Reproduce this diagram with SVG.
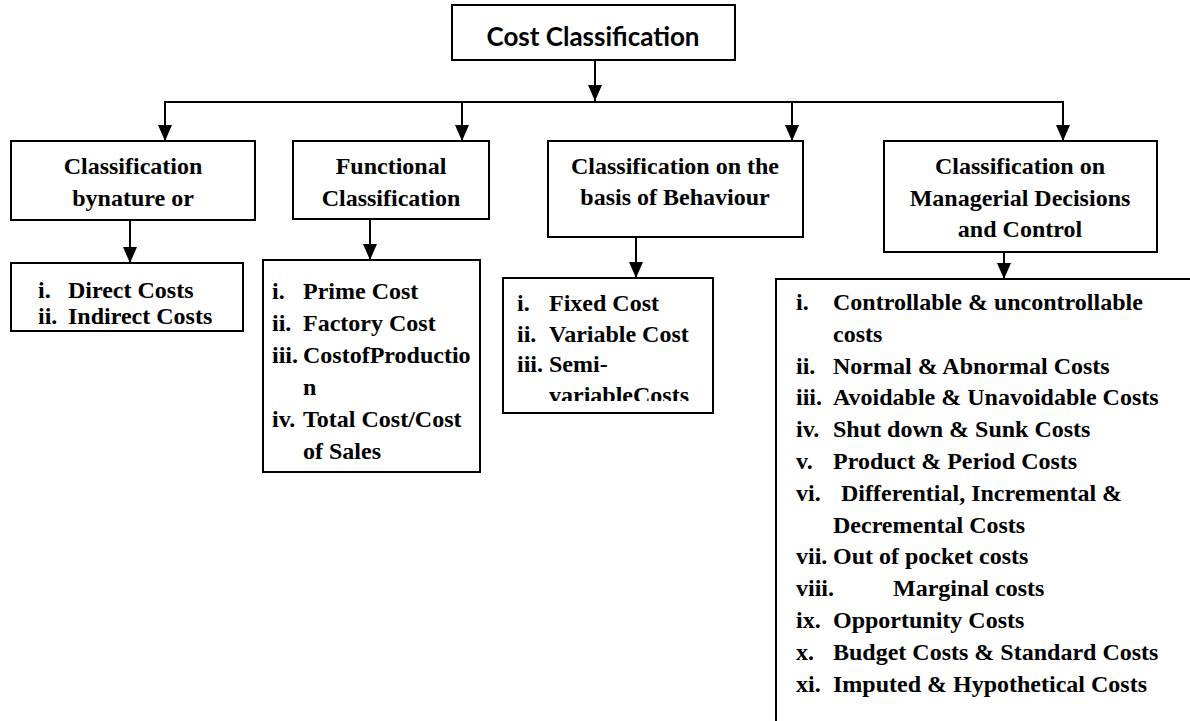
<svg xmlns="http://www.w3.org/2000/svg" width="1190" height="721" viewBox="0 0 1190 721">
<defs>
<style>
.box{fill:#fff;stroke:#000;stroke-width:2}
.ln{fill:none;stroke:#000;stroke-width:2}
.hd{font-family:"Liberation Serif","Times New Roman",serif;font-weight:bold;font-size:24px;text-anchor:middle;fill:#000}
.li{font-family:"Liberation Serif","Times New Roman",serif;font-weight:bold;font-size:24px;fill:#000}
.tt{font-family:Lato,"Liberation Sans",sans-serif;font-weight:bold;font-size:26px;text-anchor:middle;fill:#000}
</style>
<marker id="ah" markerUnits="userSpaceOnUse" markerWidth="16" markerHeight="14" viewBox="0 0 16 14" refX="16" refY="7" orient="auto">
<path d="M0,0 L16,7 L0,14 z" fill="#000"/>
</marker>
<clipPath id="c3"><rect x="503" y="278" width="210" height="123"/></clipPath>
</defs>
<rect width="1190" height="721" fill="#fff"/>

<g id="connectors">
<line class="ln" x1="595" y1="60" x2="595" y2="101" marker-end="url(#ah)"/>
<path class="ln" d="M165,102 L1063,102"/>
<line class="ln" x1="165" y1="101" x2="165" y2="141" marker-end="url(#ah)"/>
<line class="ln" x1="462" y1="102" x2="462" y2="141" marker-end="url(#ah)"/>
<line class="ln" x1="792" y1="102" x2="792" y2="141" marker-end="url(#ah)"/>
<line class="ln" x1="1063" y1="101" x2="1063" y2="141" marker-end="url(#ah)"/>
<line class="ln" x1="130" y1="220" x2="130" y2="263" marker-end="url(#ah)"/>
<line class="ln" x1="370" y1="219" x2="370" y2="260" marker-end="url(#ah)"/>
<line class="ln" x1="636" y1="237" x2="636" y2="278" marker-end="url(#ah)"/>
<line class="ln" x1="1004" y1="252" x2="1004" y2="279" marker-end="url(#ah)"/>
</g>

<g id="root">
<rect class="box" x="452" y="5" width="283" height="55"/>
<text class="tt" x="593" y="46">Cost Classification</text>
</g>

<g id="nature">
<rect class="box" x="11" y="141" width="244" height="79"/>
<text class="hd" x="133" y="174">Classification</text>
<text class="hd" x="133" y="206">bynature or</text>
</g>

<g id="functional">
<rect class="box" x="293" y="141" width="196" height="78"/>
<text class="hd" x="391" y="174">Functional</text>
<text class="hd" x="391" y="206">Classification</text>
</g>

<g id="behaviour">
<rect class="box" x="548" y="141" width="255" height="96"/>
<text class="hd" x="675" y="174">Classification on the</text>
<text class="hd" x="675" y="205">basis of Behaviour</text>
</g>

<g id="managerial">
<rect class="box" x="884" y="141" width="273" height="111"/>
<text class="hd" x="1020" y="174">Classification on</text>
<text class="hd" x="1020" y="206">Managerial Decisions</text>
<text class="hd" x="1020" y="237">and Control</text>
</g>

<g id="nature-list">
<rect class="box" x="11" y="263" width="232" height="68"/>
<text class="li" x="38" y="298">i.</text><text class="li" x="68" y="298">Direct Costs</text>
<text class="li" x="38" y="324">ii.</text><text class="li" x="68" y="324">Indirect Costs</text>
</g>

<g id="functional-list">
<rect class="box" x="263" y="260" width="217" height="212"/>
<text class="li" x="272" y="299">i.</text><text class="li" x="303" y="299">Prime Cost</text>
<text class="li" x="272" y="331">ii.</text><text class="li" x="303" y="331">Factory Cost</text>
<text class="li" x="272" y="363">iii.</text><text class="li" x="303" y="363">CostofProductio</text>
<text class="li" x="303" y="395">n</text>
<text class="li" x="272" y="427">iv.</text><text class="li" x="303" y="427">Total Cost/Cost</text>
<text class="li" x="303" y="459">of Sales</text>
</g>

<g id="behaviour-list">
<rect class="box" x="503" y="278" width="210" height="135"/>
<g clip-path="url(#c3)">
<text class="li" x="517" y="311">i.</text><text class="li" x="549" y="311">Fixed Cost</text>
<text class="li" x="517" y="342">ii.</text><text class="li" x="549" y="342">Variable Cost</text>
<text class="li" x="517" y="372">iii.</text><text class="li" x="549" y="372">Semi-</text>
<text class="li" x="549" y="403">variableCosts</text>
</g>
</g>

<g id="managerial-list">
<path class="ln" d="M1190,279 L776,279 L776,721"/>
<text class="li" x="796" y="310">i.</text><text class="li" x="833" y="310">Controllable &amp; uncontrollable</text>
<text class="li" x="833" y="342">costs</text>
<text class="li" x="796" y="374">ii.</text><text class="li" x="833" y="374">Normal &amp; Abnormal Costs</text>
<text class="li" x="796" y="405">iii.</text><text class="li" x="833" y="405">Avoidable &amp; Unavoidable Costs</text>
<text class="li" x="796" y="437">iv.</text><text class="li" x="833" y="437">Shut down &amp; Sunk Costs</text>
<text class="li" x="796" y="469">v.</text><text class="li" x="833" y="469">Product &amp; Period Costs</text>
<text class="li" x="796" y="501">vi.</text><text class="li" x="841" y="501">Differential, Incremental &amp;</text>
<text class="li" x="833" y="533">Decremental Costs</text>
<text class="li" x="796" y="564">vii.</text><text class="li" x="833" y="564">Out of pocket costs</text>
<text class="li" x="796" y="596">viii.</text><text class="li" x="893" y="596">Marginal costs</text>
<text class="li" x="796" y="628">ix.</text><text class="li" x="833" y="628">Opportunity Costs</text>
<text class="li" x="796" y="660">x.</text><text class="li" x="833" y="660">Budget Costs &amp; Standard Costs</text>
<text class="li" x="796" y="692">xi.</text><text class="li" x="833" y="692">Imputed &amp; Hypothetical Costs</text>
</g>
</svg>
